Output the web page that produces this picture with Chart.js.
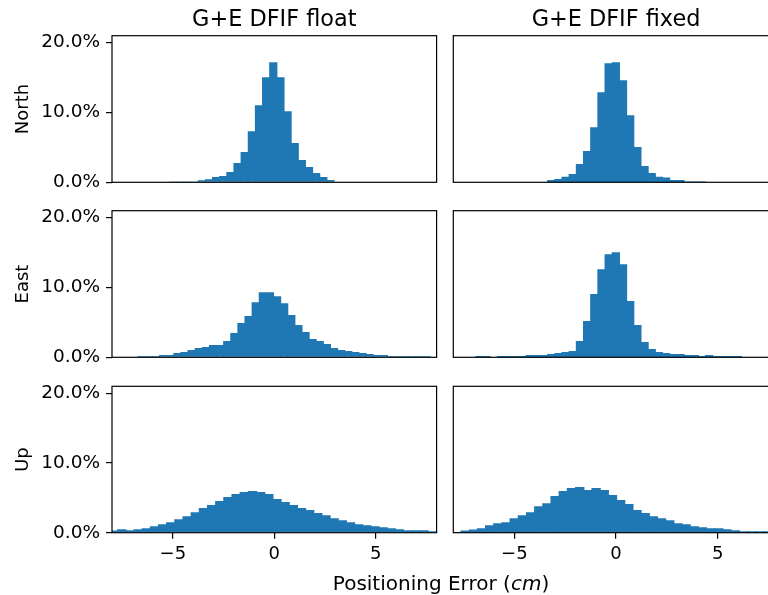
<!DOCTYPE html>
<html>
<head>
<meta charset="utf-8">
<script src="https://cdn.jsdelivr.net/npm/chart.js@4"></script>
<style>
html,body{margin:0;padding:0;background:#fff;}
#fig{position:relative;width:768px;height:595px;overflow:hidden;background:#fff;font-family:"DejaVu Sans",sans-serif;color:#000;}
#fig canvas{position:absolute;left:0;top:0;}
.txt{position:absolute;white-space:nowrap;line-height:1;transform:translateX(-50%);}
</style>
</head>
<body>
<div id="fig"></div>
<script>
// ---------------- data (percent of epochs per bin) ----------------
const columnTitles = ['G+E DFIF float', 'G+E DFIF fixed'];
const rowTitles = ['North', 'East', 'Up'];
const xLabel = 'Positioning Error';
const xUnit = 'cm';
const yTicks = [0, 10, 20];
const xTicks = [-5, 0, 5];
const xRange = [-8, 8];
const yRange = [0, 21];

// [first bin edge, bin width] in cm
const northFloatBins = [-5.861, 0.3522];
const northFixedBins = [-6.539, 0.353];
const eastFloatBins  = [-6.708, 0.351];
const eastFixedBins  = [-6.891, 0.353];
const upFloatBins    = [-8.12, 0.4025];
const upFixedBins    = [-8.02, 0.4023];

const northFloat = [0.08,0.08,0.03,0.03,0.03,0.03,0.29,0.43,0.76,0.9,1.48,2.76,4.33,7.33,11.05,15.05,17.19,15.05,10.19,5.62,3.19,2.19,1.33,0.76,0.33,0.08,0.08,0.08,0.08,0.08,0.08,0.08,0.08];
const northFixed = [0.05,0.05,0.05,0.05,0.05,0.05,0.05,0.05,0.05,0.33,0.48,0.81,1.19,2.62,4.48,7.9,12.9,17.05,17.19,14.62,9.62,5.05,2.33,1.33,0.81,0.67,0.33,0.33,0.1,0.1,0.1];
const eastFloat  = [0.19,0.19,0.19,0.33,0.33,0.62,0.76,1.05,1.33,1.48,1.76,1.76,2.33,3.48,4.9,5.9,7.9,9.33,9.33,8.76,7.76,6.05,4.62,3.62,2.62,2.33,1.9,1.33,1.05,0.9,0.76,0.62,0.48,0.33,0.33,0.19,0.19,0.19,0.19,0.19,0.19];
const eastFixed  = [0.19,0.19,0,0.19,0.19,0.19,0.19,0.33,0.33,0.33,0.48,0.62,0.76,0.9,2.33,5.19,9.05,12.62,14.76,15.05,13.33,8.05,4.62,2.19,1.19,0.76,0.62,0.48,0.48,0.33,0.33,0.19,0.33,0.19,0.19,0.19,0.19];
const upFloat    = [0.31,0.5,0.36,0.5,0.65,0.94,1.22,1.51,1.94,2.37,2.95,3.53,3.96,4.53,5.11,5.54,5.83,5.97,5.83,5.54,4.82,4.39,3.96,3.53,3.24,2.81,2.52,2.09,1.8,1.51,1.22,1.08,0.94,0.79,0.65,0.5,0.36,0.36,0.36,0.22];
const upFixed    = [0.1,0.31,0.46,0.65,1.08,1.37,1.51,2.09,2.52,2.95,3.81,4.24,5.25,5.97,6.4,6.55,6.12,6.4,6.12,5.4,4.68,4.1,3.24,2.81,2.37,2.09,1.8,1.37,1.22,0.94,0.79,0.65,0.65,0.5,0.36,0.22,0.22,0.22,0.22,0.15];

// ---------------- layout ----------------
const FIG_W = 768, FIG_H = 595;
const colLeft = [112, 453.3], colRight = [436.6, 778.7];
const rowTop = [35.7, 210.7, 386.3], rowBottom = [182.3, 357.3, 532.7];
const BAR_COLOR = '#1f77b4';
const FONT = 'DejaVu Sans';

Chart.defaults.font.family = FONT;
Chart.defaults.color = '#000';

const spines = {
  id: 'spines',
  afterDatasetsDraw(chart) {
    const {ctx, chartArea: a} = chart;
    ctx.save();
    ctx.strokeStyle = '#000';
    ctx.lineWidth = 1.2;
    ctx.strokeRect(a.left, a.top, a.right - a.left, a.bottom - a.top);
    ctx.restore();
  }
};

const fig = document.getElementById('fig');

function fmtX(v) { return v < 0 ? '\u2212' + Math.abs(v) : String(v); }

function makePanel(row, col, values, bins) {
  const canvasW = col === 0 ? FIG_W : 800;
  const cv = document.createElement('canvas');
  cv.width = canvasW; cv.height = FIG_H;
  cv.style.width = canvasW + 'px'; cv.style.height = FIG_H + 'px';
  fig.appendChild(cv);
  const showX = row === 2;
  const showY = col === 0;
  const xAxisH = showX ? 40 : 0;
  const yAxisW = showY ? colLeft[0] : 0;
  const pts = values.map((v, i) => ({x: bins[0] + (i + 0.5) * bins[1], y: v}));
  new Chart(cv, {
    type: 'bar',
    data: {datasets: [{
      data: pts,
      backgroundColor: BAR_COLOR,
      borderWidth: 0,
      inflateAmount: 0,
      barPercentage: 1.15,
      categoryPercentage: 1
    }]},
    options: {
      responsive: false,
      animation: false,
      devicePixelRatio: 1,
      events: [],
      layout: {padding: {
        left: showY ? 0 : colLeft[col],
        top: rowTop[row],
        right: canvasW - colRight[col],
        bottom: FIG_H - rowBottom[row] - xAxisH
      }},
      plugins: {legend: {display: false}, tooltip: {enabled: false}, title: {display: false}},
      scales: {
        x: {
          type: 'linear', min: xRange[0], max: xRange[1],
          offset: false, display: showX,
          afterBuildTicks: s => { s.ticks = xTicks.map(v => ({value: v})); },
          afterFit: s => { s.height = xAxisH; },
          border: {display: false},
          grid: {display: true, offset: false, drawOnChartArea: false, drawTicks: true, tickLength: 6, color: '#000', lineWidth: 1.2},
          ticks: {font: {size: 18}, padding: 5, maxRotation: 0, autoSkip: false, callback: v => fmtX(v)}
        },
        y: {
          type: 'linear', min: yRange[0], max: yRange[1],
          display: showY,
          afterBuildTicks: s => { s.ticks = yTicks.map(v => ({value: v})); },
          afterFit: s => { s.width = yAxisW; },
          border: {display: false},
          grid: {display: true, drawOnChartArea: false, drawTicks: true, tickLength: 6, color: '#000', lineWidth: 1.2},
          ticks: {font: {size: 18.5}, padding: 6, callback: v => v.toFixed(1) + '%'},
          title: {display: true, text: rowTitles[row], font: {size: 18}, padding: {top: 12.5, bottom: 0}}
        }
      }
    },
    plugins: [spines]
  });
}

const panelValues = [[northFloat, northFixed], [eastFloat, eastFixed], [upFloat, upFixed]];
const panelBins = [[northFloatBins, northFixedBins], [eastFloatBins, eastFixedBins], [upFloatBins, upFixedBins]];
for (let r = 0; r < 3; r++) for (let c = 0; c < 2; c++) makePanel(r, c, panelValues[r][c], panelBins[r][c]);

// column titles and shared x label (real text)
const titleCenters = [274.3, 616];
columnTitles.forEach((t, i) => {
  const d = document.createElement('div');
  d.className = 'txt';
  d.style.left = titleCenters[i] + 'px';
  d.style.top = '7px';
  d.style.fontSize = '22.4px';
  d.textContent = t;
  fig.appendChild(d);
});
const xl = document.createElement('div');
xl.className = 'txt';
xl.style.left = '441px';
xl.style.top = '573px';
xl.style.fontSize = '20px';
xl.appendChild(document.createTextNode(xLabel + ' ('));
const it = document.createElement('i');
it.textContent = xUnit;
xl.appendChild(it);
xl.appendChild(document.createTextNode(')'));
fig.appendChild(xl);
</script>
</body>
</html>
